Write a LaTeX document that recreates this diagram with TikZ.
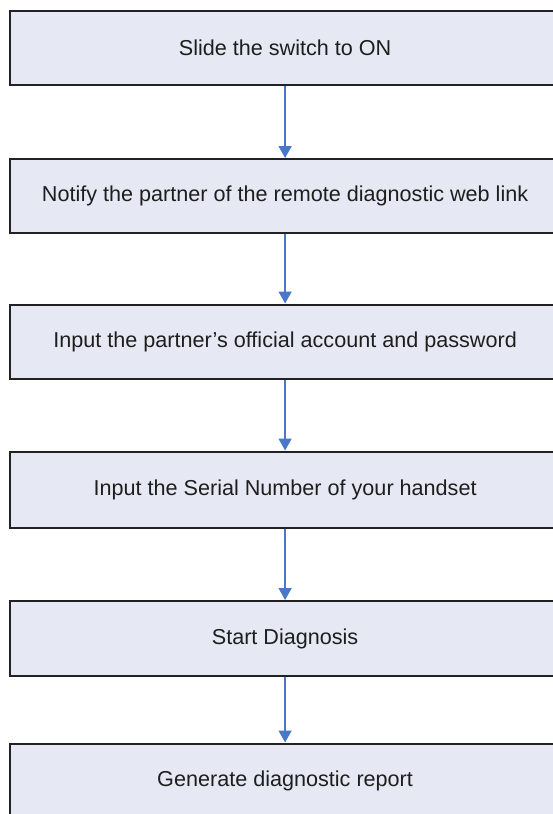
\documentclass[tikz,border=0pt]{standalone}
\usepackage{fontspec}
\setmainfont{Liberation Sans}
\usetikzlibrary{arrows.meta}
\definecolor{boxfill}{HTML}{E6E9F4}
\definecolor{boxline}{HTML}{222222}
\definecolor{arrowblue}{HTML}{4A78C8}
\definecolor{txt}{HTML}{1E1E1E}
\tikzset{
  stepbox/.style={draw=boxline, line width=2.2pt, fill=boxfill, rectangle,
    minimum width=551pt, minimum height=74pt, anchor=north west, inner sep=0pt,
    text=txt, font=\fontsize{21.6}{26}\selectfont},
  flowarrow/.style={draw=arrowblue, line width=1.6pt, -{Triangle[width=13pt,length=12pt]}}
}
\begin{document}
\begin{tikzpicture}[x=1pt,y=-1pt]
\useasboundingbox (0,0) rectangle (553,814);
\clip (0,0) rectangle (553,814);
\fill[white] (0,0) rectangle (553,814);
\node[stepbox] (b1) at (8.5,10) {Slide the switch to ON};
\node[stepbox] (b2) at (8.5,158) {Notify the partner of the remote diagnostic web link};
\node[stepbox] (b3) at (8.5,303.5) {Input the partner's official account and password};
\node[stepbox, minimum height=76pt] (b4) at (8.5,450.5) {Input the Serial Number of your handset};
\node[stepbox, minimum height=75pt] (b5) at (8.5,600) {Start Diagnosis};
\node[stepbox] (b6) at (8.5,742.5) {Generate diagnostic report};
\draw[flowarrow] (b1.south) -- (b2.north);
\draw[flowarrow] (b2.south) -- (b3.north);
\draw[flowarrow] (b3.south) -- (b4.north);
\draw[flowarrow] (b4.south) -- (b5.north);
\draw[flowarrow] (b5.south) -- (b6.north);
\end{tikzpicture}
\end{document}
